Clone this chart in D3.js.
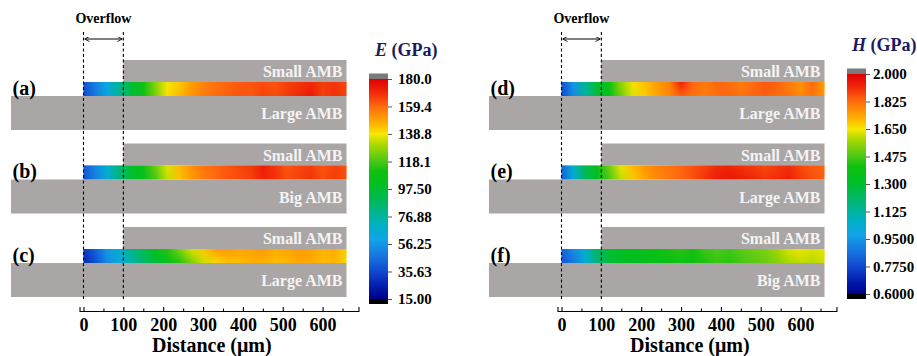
<!DOCTYPE html>
<html><head><meta charset="utf-8">
<script src="https://cdn.jsdelivr.net/npm/d3@7"></script>
<style>
html,body{margin:0;padding:0;background:#fff;}
svg{display:block;font-family:"Liberation Serif","Times New Roman",serif;font-weight:bold;}
</style></head>
<body>
<svg id="chart" width="917" height="356"></svg>
<script>
// ---------------- DATA ----------------
const distance = [0,30,60,90,120,150,180,210,240,270,300,330,360,390,420,450,480,510,540,570,600,630,660];
const axisTicks = [0,100,200,300,400,500,600];
const minorTicks = [50,150,250,350,450,550,650];
const panelLabels = ["(a)","(b)","(c)","(d)","(e)","(f)"];
const upperLayer = ["Small AMB","Small AMB","Small AMB","Small AMB","Small AMB","Small AMB"];
const lowerLayer = ["Large AMB","Big AMB","Large AMB","Large AMB","Large AMB","Big AMB"];

const E_a_top = [38,50,64,80,96,110,126,138,143,150,155,158,160,162,163,164,163,166,168,170,167,168,165];
const E_a_bot = [36,48,62,78,95,108,124,140,146,152,156,159,161,163,162,166,164,167,170,174,166,169,166];
const E_b_top = [40,52,68,84,99,108,122,136,146,152,157,160,162,165,167,173,168,163,165,167,163,166,163];
const E_b_bot = [38,50,66,82,97,104,118,133,144,151,156,159,163,164,166,171,169,164,166,168,164,167,164];
const E_c_top = [30,42,57,67,80,92,103,113,124,135,143,150,151,149,150,151,148,149,151,150,147,148,143];
const E_c_bot = [27,38,53,63,75,85,96,104,113,124,134,141,144,145,147,147,145,146,148,148,145,146,141];
const H_d_top = [0.80,0.95,1.15,1.30,1.40,1.56,1.66,1.70,1.75,1.79,1.93,1.83,1.80,1.83,1.82,1.80,1.82,1.85,1.84,1.80,1.76,1.83,1.74];
const H_d_bot = [0.78,0.92,1.12,1.28,1.37,1.52,1.63,1.69,1.74,1.78,1.84,1.81,1.80,1.82,1.83,1.81,1.83,1.84,1.82,1.81,1.78,1.81,1.76];
const H_e_top = [0.85,1.05,1.26,1.36,1.52,1.64,1.71,1.76,1.79,1.81,1.83,1.86,1.88,1.91,1.92,1.90,1.89,1.87,1.89,1.91,1.87,1.85,1.83];
const H_e_bot = [0.82,1.02,1.22,1.33,1.48,1.60,1.69,1.74,1.78,1.80,1.83,1.86,1.90,1.94,1.95,1.94,1.92,1.90,1.91,1.93,1.89,1.86,1.84];
const H_f_top = [0.84,0.92,1.06,1.22,1.30,1.33,1.34,1.37,1.40,1.42,1.44,1.41,1.46,1.48,1.46,1.49,1.51,1.53,1.57,1.62,1.64,1.62,1.64];
const H_f_bot = [0.80,0.88,1.03,1.18,1.28,1.31,1.32,1.34,1.36,1.38,1.40,1.39,1.43,1.46,1.44,1.47,1.49,1.51,1.54,1.58,1.60,1.59,1.61];

const E_ticks = ["15.00","35.63","56.25","76.88","97.50","118.1","138.8","159.4","180.0"];
const H_ticks = ["0.6000","0.7750","0.9500","1.125","1.300","1.475","1.650","1.825","2.000"];

// ---------------- STYLE ----------------
const cmap = [
 [0.00,"#000088"],[0.05,"#0018a8"],[0.125,"#1048d0"],[0.20,"#1878e0"],
 [0.27,"#10a4e8"],[0.33,"#00b0c8"],[0.375,"#00b4a0"],[0.44,"#00b860"],
 [0.52,"#00c020"],[0.58,"#10c010"],[0.63,"#50c818"],[0.70,"#a8d800"],
 [0.75,"#f8e800"],[0.80,"#ffb000"],[0.875,"#ff6a10"],[0.94,"#f02808"],[1.00,"#e00000"]
];
const tColor = d3.scaleLinear().domain(cmap.map(d=>d[0])).range(cmap.map(d=>d[1])).interpolate(d3.interpolateRgb).clamp(true);
const GRAY = "#aba6a6", TXT = "#f4f4f4", NAVY = "#1b1b5c";

const svg = d3.select("#chart");
const defs = svg.append("defs");
defs.append("marker").attr("id","arrL").attr("viewBox","0 0 6 6").attr("refX",0).attr("refY",3)
  .attr("markerWidth",5).attr("markerHeight",5).attr("orient","auto")
  .append("path").attr("d","M6,0 L0,3 L6,6").attr("fill","none").attr("stroke","#000").attr("stroke-width",1);
defs.append("marker").attr("id","arrR").attr("viewBox","0 0 6 6").attr("refX",6).attr("refY",3)
  .attr("markerWidth",5).attr("markerHeight",5).attr("orient","auto")
  .append("path").attr("d","M0,0 L6,3 L0,6").attr("fill","none").attr("stroke","#000").attr("stroke-width",1);
const fade = defs.append("linearGradient").attr("id","fadeV").attr("x1",0).attr("y1",0).attr("x2",0).attr("y2",1);
fade.append("stop").attr("offset","0%").attr("stop-color","#fff");
fade.append("stop").attr("offset","100%").attr("stop-color","#000");

const panels = [
  {x0:83.5, bands:[[E_a_top,E_a_bot],[E_b_top,E_b_bot],[E_c_top,E_c_bot]], dom:[15,180], ticks:E_ticks,
   cbX:369, cbTop:79, cbBot:299, title:"E", titleY:56, titleX:375},
  {x0:561.5, bands:[[H_d_top,H_d_bot],[H_e_top,H_e_bot],[H_f_top,H_f_bot]], dom:[0.6,2.0], ticks:H_ticks,
   cbX:847, cbTop:74, cbBot:294, title:"H", titleY:51, titleX:852}
];
const rowTops = [60,143.5,227];
const pxPerUm = 0.3985;

panels.forEach((p,pi)=>{
  const x = d3.scaleLinear().domain([0,660]).range([p.x0, p.x0+660*pxPerUm]);
  const g = svg.append("g");
  const cval = d3.scaleLinear().domain(p.dom).range([0,1]);
  const colorOf = v => tColor(cval(v));

  p.bands.forEach((bd,ri)=>{
    const y0 = rowTops[ri];
    const idx = pi*3+ri;
    g.append("rect").attr("x",x(100)).attr("y",y0).attr("width",x(660)-x(100)).attr("height",22).attr("fill",GRAY);
    g.append("rect").attr("x",x(-182)).attr("y",y0+36).attr("width",x(660)-x(-182)).attr("height",34).attr("fill",GRAY);
    ["bot","top"].forEach((k,ki)=>{
      const vals = ki===0 ? bd[1] : bd[0];
      const gr = defs.append("linearGradient").attr("id",`g${idx}${k}`).attr("gradientUnits","userSpaceOnUse")
        .attr("x1",x(0)).attr("x2",x(660)).attr("y1",0).attr("y2",0);
      gr.selectAll("stop").data(distance).join("stop")
        .attr("offset",d=>(d/660*100)+"%")
        .attr("stop-color",(d,i)=>colorOf(vals[i]));
    });
    const m = defs.append("mask").attr("id",`m${idx}`);
    m.append("rect").attr("x",x(0)).attr("y",y0+22).attr("width",x(660)-x(0)).attr("height",14).attr("fill","url(#fadeV)");
    g.append("rect").attr("x",x(0)).attr("y",y0+22).attr("width",x(660)-x(0)).attr("height",14).attr("fill",`url(#g${idx}bot)`);
    g.append("rect").attr("x",x(0)).attr("y",y0+22).attr("width",x(660)-x(0)).attr("height",14).attr("fill",`url(#g${idx}top)`).attr("mask",`url(#m${idx})`);
    g.append("text").attr("x",x(660)-4).attr("y",y0+17).attr("text-anchor","end").attr("font-size",16).attr("fill",TXT).text(upperLayer[idx]);
    g.append("text").attr("x",x(660)-4).attr("y",y0+59).attr("text-anchor","end").attr("font-size",16).attr("fill",TXT).text(lowerLayer[idx]);
    g.append("text").attr("x",x(-178)).attr("y",y0+34.5).attr("font-size",20).attr("fill","#000").text(panelLabels[idx]);
  });

  [0,100].forEach(d=>{
    g.append("line").attr("x1",x(d)).attr("x2",x(d)).attr("y1",32).attr("y2",299)
      .attr("stroke","#000").attr("stroke-width",1.1).attr("stroke-dasharray","3,2.5");
  });
  g.append("line").attr("x1",x(0)+1).attr("x2",x(100)-1).attr("y1",39).attr("y2",39)
    .attr("stroke","#000").attr("stroke-width",1).attr("marker-start","url(#arrL)").attr("marker-end","url(#arrR)");
  g.append("text").attr("x",x(50)).attr("y",23).attr("text-anchor","middle").attr("font-size",14).text("Overflow");

  const xa = d3.scaleLinear().domain([-10,690]).range([x(-10),x(690)]);
  const ax = g.append("g").attr("transform","translate(0,311)")
    .call(d3.axisBottom(xa).tickValues(axisTicks).tickFormat(d3.format("d")).tickSize(-4).tickSizeOuter(-4).tickPadding(7));
  ax.selectAll("text").attr("font-size",18).attr("fill","#000").attr("font-family","Liberation Serif").attr("font-weight","bold");
  ax.selectAll("line,path").attr("stroke","#000").attr("stroke-width",1.1);
  const ax2 = g.append("g").attr("transform","translate(0,311)")
    .call(d3.axisBottom(xa).tickValues(minorTicks).tickFormat("").tickSize(-2.5));
  ax2.select(".domain").remove();
  ax2.selectAll("line").attr("stroke","#000").attr("stroke-width",1.1);
  g.append("text").attr("x",x(322)).attr("y",352).attr("text-anchor","middle").attr("font-size",20).text("Distance (μm)");

  const cg = defs.append("linearGradient").attr("id",`cb${pi}`).attr("x1",0).attr("y1",1).attr("x2",0).attr("y2",0);
  cg.selectAll("stop").data(cmap).join("stop").attr("offset",d=>(d[0]*100)+"%").attr("stop-color",d=>d[1]);
  const cy = d3.scaleLinear().domain(p.dom).range([p.cbBot,p.cbTop]);
  g.append("rect").attr("x",p.cbX).attr("y",p.cbTop-5.5).attr("width",19).attr("height",5.5).attr("fill","#7a7a7a");
  g.append("rect").attr("x",p.cbX).attr("y",p.cbBot).attr("width",19).attr("height",5).attr("fill","#000");
  g.append("rect").attr("x",p.cbX).attr("y",p.cbTop).attr("width",19).attr("height",p.cbBot-p.cbTop).attr("fill",`url(#cb${pi})`);
  const cax = g.append("g").attr("transform",`translate(${p.cbX+19},0)`)
    .call(d3.axisRight(cy).tickValues(p.ticks.map(Number)).tickFormat((d,i)=>p.ticks[i]).tickSize(4).tickPadding(pi===0?6:3));
  cax.select(".domain").remove();
  cax.selectAll("line").attr("stroke","#555").attr("stroke-width",1);
  cax.selectAll("text").attr("font-size",15).attr("fill","#000").attr("font-family","Liberation Serif").attr("font-weight","bold");
  const tt = g.append("text").attr("x",p.titleX).attr("y",p.titleY).attr("font-size",18).attr("fill",NAVY);
  tt.append("tspan").attr("font-style","italic").text(p.title);
  tt.append("tspan").text(" (GPa)");
});
</script>
</body></html>
